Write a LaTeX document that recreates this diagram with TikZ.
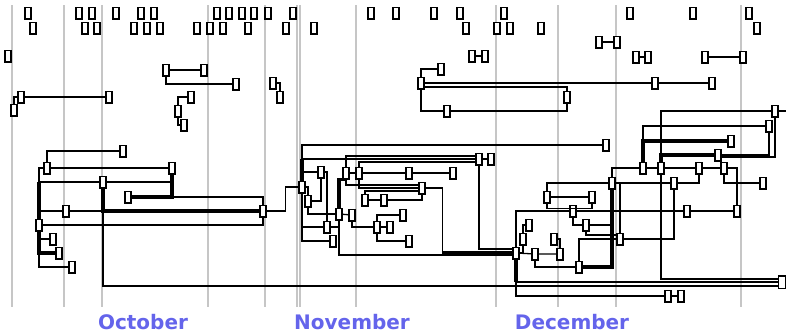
\documentclass[tikz,border=0pt]{standalone}
\usepackage{fontspec}
\newfontfamily\monthfont{DejaVu Sans}
\definecolor{monthblue}{RGB}{100,100,235}
\tikzset{
  bx/.style={draw,line width=1.5pt,fill=white,inner sep=0pt,minimum width=6pt,minimum height=11.5pt},
  bxw/.style={bx,minimum width=7pt,minimum height=12.5pt},
  wire/.style={line width=1.3pt},
  heavy/.style={line width=3.2pt},
  dayline/.style={gray!45,line width=1.3pt},
  monthlbl/.style={text=monthblue,anchor=base,font=\monthfont\bfseries\fontsize{20}{24}\selectfont}
}
\begin{document}
\begin{tikzpicture}[x=1pt,y=-1pt]
  \useasboundingbox (0,0) rectangle (786,335);
  \foreach \x in {12,64,102,208,265,297,300,356,496,558,616,741}
    \draw[dayline] (\x,5) -- (\x,307);

  % loose tasks along the top
  \foreach \x [count=\i] in {28,79,92,116,141,154,217,229,242,254,268,293,371,396,434,460,504,630,693,749}
    \node[bx] (ta\i) at (\x,13) {};
  \foreach \x [count=\i] in {33,85,97,134,147,160,197,210,223,248,286,314,466,497,510,541,757}
    \node[bx] (tb\i) at (\x,28) {};
  \node[bx] (s1) at (8,56) {};
  \foreach \a/\b/\y [count=\i] in {472/485/56,599/617/42,636/648/57,705/743/57} {
    \node[bx] (pa\i) at (\a,\y) {};
    \node[bx] (pb\i) at (\b,\y) {};
    \draw[wire] (pa\i) -- (pb\i);
  }

  % small chains
  \node[bx] (u1) at (21,97) {};
  \node[bx] (u2) at (109,97) {};
  \node[bx] (u3) at (14,110) {};
  \node[bx] (u4) at (166,70) {};
  \node[bx] (u5) at (204,70) {};
  \node[bx] (u6) at (236,84) {};
  \node[bx] (u7) at (273,83) {};
  \node[bx] (u8) at (280,97) {};
  \node[bx] (u9) at (191,97) {};
  \node[bx] (u10) at (178,111) {};
  \node[bx] (u11) at (184,125) {};
  \draw[wire] (u1) -- (u2);
  \draw[wire] (u3.north) |- (u1.west);
  \draw[wire] (u4) -- (u5);
  \draw[wire] (u4.south) |- (u6.west);
  \draw[wire] (u7.east) -| (u8.north);
  \draw[wire] (u9.west) -| (u10.north);
  \draw[wire] (u10.south) |- (u11.west);

  \node[bx] (v1) at (421,83) {};
  \node[bx] (v2) at (441,69) {};
  \node[bx] (v3) at (655,83) {};
  \node[bx] (v4) at (712,83) {};
  \node[bx] (v5) at (567,97) {};
  \node[bx] (v6) at (447,111) {};
  \draw[wire] (v1.north) |- (v2.west);
  \draw[wire] (v1.east) -- (v3) -- (v4);
  \draw[wire] ([yshift=-4pt]v1.east) -| (v5.north);
  \draw[wire] (v1.south) |- (v6.west);
  \draw[wire] (v6.east) -| (v5.south);

  % October
  \node[bx] (o1) at (123,151) {};
  \node[bx] (o2) at (47,168) {};
  \node[bx] (o3) at (172,168) {};
  \node[bx] (o4) at (128,197) {};
  \node[bx] (o5) at (263,211) {};
  \node[bx] (o6) at (103,182) {};
  \node[bx] (o7) at (66,211) {};
  \node[bx] (o8) at (39,225) {};
  \node[bx] (o9) at (53,239) {};
  \node[bx] (o10) at (59,253) {};
  \node[bx] (o11) at (72,267) {};

  % November
  \node[bx] (n0) at (302,187) {};
  \node[bx] (n1) at (321,172) {};
  \node[bx] (n2) at (308,201) {};
  \node[bx] (n3) at (327,227) {};
  \node[bx] (n4) at (333,241) {};
  \node[bx] (n5) at (339,214) {};
  \node[bx] (n6) at (346,173) {};
  \node[bx] (n7) at (352,215) {};
  \node[bx] (n8) at (359,173) {};
  \node[bx] (n9) at (409,173) {};
  \node[bx] (n10) at (453,173) {};
  \node[bx] (n11) at (422,188) {};
  \node[bx] (n12) at (365,200) {};
  \node[bx] (n13) at (384,200) {};
  \node[bx] (n14) at (403,215) {};
  \node[bx] (n15) at (377,227) {};
  \node[bx] (n16) at (390,227) {};
  \node[bx] (n17) at (409,241) {};
  \node[bx] (n18) at (479,159) {};
  \node[bx] (n19) at (491,159) {};
  \node[bx] (n20) at (606,145) {};

  % December
  \node[bx] (d0) at (516,253) {};
  \node[bx] (d1) at (529,225) {};
  \node[bx] (d2) at (523,239) {};
  \node[bx] (d3) at (535,254) {};
  \node[bx] (d4) at (560,254) {};
  \node[bx] (d5) at (554,239) {};
  \node[bx] (d6) at (579,267) {};
  \node[bx] (d7) at (547,197) {};
  \node[bx] (d8) at (592,197) {};
  \node[bx] (d9) at (573,211) {};
  \node[bx] (d10) at (586,225) {};
  \node[bx] (d11) at (612,183) {};
  \node[bx] (d12) at (620,239) {};
  \node[bx] (d13) at (643,168) {};
  \node[bx] (d14) at (661,168) {};
  \node[bx] (d15) at (699,168) {};
  \node[bx] (d16) at (724,168) {};
  \node[bx] (d17) at (674,183) {};
  \node[bx] (d18) at (763,183) {};
  \node[bx] (d19) at (687,211) {};
  \node[bx] (d20) at (737,211) {};
  \node[bx] (d21) at (731,141) {};
  \node[bx] (d22) at (718,155) {};
  \node[bx] (d23) at (769,126) {};
  \node[bx] (d24) at (775,111) {};
  \node[bxw] (z) at (782,282) {};
  \node[bx] (q1) at (668,296) {};
  \node[bx] (q2) at (681,296) {};
  \coordinate (rt) at (786,111);

  % October links
  \draw[wire] (o1.west) -| (o2.north);
  \draw[wire] (o2) -- (o3);
  \draw[heavy] (o3.south) |- (o4.east);
  \draw[wire] (o4.east) -| (o5.north);
  \draw[wire] (o6.east) -| (o3.south);
  \draw[wire] (o2.west) -| (o8.north);
  \draw[wire] (o6.west) -- (o6.west -| o8.north);
  \draw[heavy] (o6.west -| o8.north) -- (o8.north);
  \draw[heavy] (o8.south) |- (o10.west);
  \draw[wire] (o8.south) |- (o9.west);
  \draw[wire] (o8.south) |- (o11.west);
  \draw[wire] (o7.west) -- (o7.west -| o8.north);
  \draw[wire] (o7.east) -- (o7.east -| o6.south);
  \draw[heavy] (o6.south) |- (o5.west);
  \draw[wire] (o6.south) |- ([yshift=-4pt]z.west);
  \draw[wire] (o8.east) -| (o5.south);
  \draw[wire] (o5.east) -- ++(19,0) |- (n0.west);

  % November links
  \draw[wire] (n0.north) |- (n20.west);
  \draw[wire] (n0.north) |- (n18.west);
  \draw[heavy] (n0.north) -- (n0.north |- n18.west);
  \draw[wire] (n0.north) |- (n1.west);
  \draw[wire] (n1.east) -| (n3.north);
  \draw[wire] (n1.south) |- (n2.east);
  \draw[wire] (n0.east) -| (n2.north);
  \draw[wire] (n2.south) |- (n5.west);
  \draw[wire] (n0.south) |- (n3.west);
  \draw[wire] (n0.south) |- (n4.west);
  \draw[wire] (n3.east) -| (n5.south);
  \draw[heavy] (n5.north) -- (n5.north |- n6.south) -- (n6.south);
  \draw[wire] (n5.south) |- ([yshift=-2pt]d0.west);
  \draw[wire] (n5) -- (n7);
  \draw[wire] (n7.south) |- (n15.west);
  \draw[wire] (n15) -- (n16);
  \draw[wire] (n15.north) |- (n14.west);
  \draw[wire] (n15.south) |- (n17.west);
  \draw[wire] (n6) -- (n8) -- (n9) -- (n10);
  \draw[wire] (n6.north) |- ([yshift=3pt]n18.west);
  \draw[wire] (n8.north) |- ([yshift=-3pt]n18.west);
  \draw[wire] (n18) -- (n19);
  \draw[wire] (n18.south) |- ([yshift=4pt]d0.west);
  \draw[wire] (n6.south) |- ([yshift=3pt]n11.west);
  \draw[wire] (n8.south) |- (n11.west);
  \draw[wire] (n12.north) |- ([yshift=-3pt]n11.west);
  \draw[wire] (n12) -- (n13);
  \draw[wire] (n13.east) -| (n11.south);
  \draw[wire] (n11.east) -- ++(17,0) coordinate (nk) |- (d0.west);
  \draw[heavy] (nk |- d0.west) -- (d0.west);

  % December links
  \draw[wire] (d0.north) |- (d9.west);
  \draw[wire] (d9) -- (d19) -- (d20);
  \draw[wire] (d2.north) |- (d1.west);
  \draw[wire] (d2.south) |- (d0.east);
  \draw[wire] (d0) -- (d3) -- (d4);
  \draw[wire] (d5.east) -| (d4.north);
  \draw[wire] (d3.south) |- (d6.west);
  \draw[heavy] (d6.east) -| (d11.south);
  \draw[wire] (d6.north) |- (d12.west);
  \draw[wire] (d10.south) |- ([yshift=4pt]d12.west);
  \draw[wire] (d9.south) |- (d10.west);
  \draw[wire] (d10.east) -| (d11.south);
  \draw[wire] (d11.east) -| (d12.north);
  \draw[wire] (d11.west) -| (d7.north);
  \draw[wire] (d7) -- (d8);
  \draw[wire] (d7.south) -- ++(0,5) -| (d8.south);
  \draw[wire] (d11.north) |- (d13.west);
  \draw[wire] (d13) -- (d14) -- (d15) -- (d16);
  \draw[wire] (d16.east) -| (d20.north);
  \draw[wire] (d11) -- (d17);
  \draw[wire] (d15.south) |- (d17.east);
  \draw[wire] (d16.south) |- (d18.west);
  \draw[wire] (d17.south) |- (d12.east);
  \draw[heavy] (d13.north) |- (d21.west);
  \draw[wire] (d13.north) |- (d23.west);
  \draw[heavy] (d14.north) |- (d22.west);
  \draw[wire] (d14.north) |- (d24.west);
  \draw[wire] (d22.east) -| (d23.south);
  \draw[wire] ([yshift=-2pt]d22.east) -| (d24.south);
  \draw[wire] (d24.east) -- (rt);
  \draw[wire] (d14.south) |- ([yshift=3pt]z.west);
  \draw[wire] (d0.south) |- (z.west);
  \draw[heavy] (d0.south) -- (d0.south |- z.west);
  \draw[wire] (d0.south) |- (q1.west);
  \draw[wire] (q1) -- (q2);

  \node[monthlbl] (m1) at (143,329) {October};
  \node[monthlbl] (m2) at (352,329) {November};
  \node[monthlbl] (m3) at (572,329) {December};
\end{tikzpicture}
\end{document}
